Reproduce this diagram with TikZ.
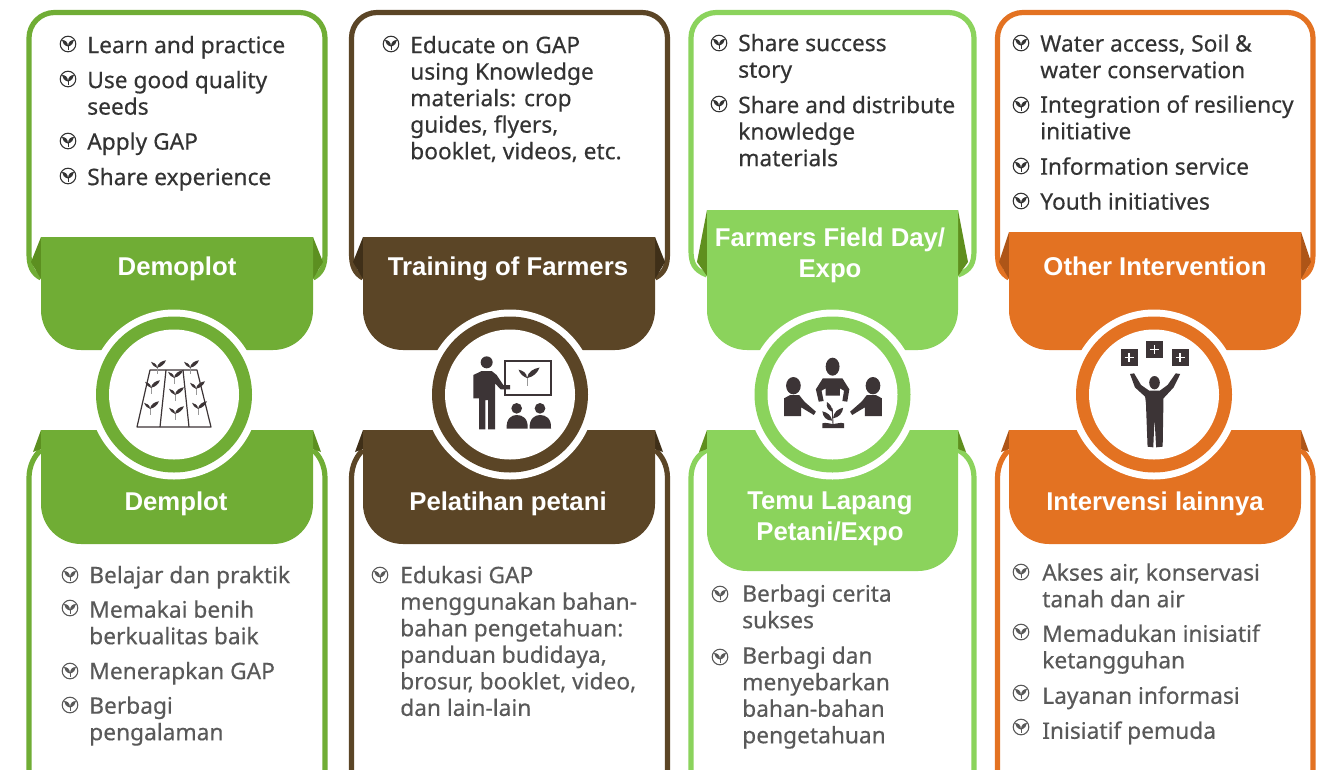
\documentclass[tikz,border=0pt]{standalone}
\usepackage{fontspec}
\setmainfont{Noto Sans}[FakeBold=0.35]
\newfontfamily\bannerfont{Liberation Sans}[BoldFont={Liberation Sans Bold}]
\definecolor{cgreen}{HTML}{70AD35}\definecolor{dgreen}{HTML}{5C8F20}
\definecolor{cbrown}{HTML}{5B4526}\definecolor{dbrown}{HTML}{3F2F18}
\definecolor{clight}{HTML}{8BD35C}\definecolor{dlight}{HTML}{5F8F1E}
\definecolor{corange}{HTML}{E37222}\definecolor{dorange}{HTML}{AE5517}
\definecolor{icon}{HTML}{3C3436}\definecolor{toptext}{HTML}{333333}\definecolor{lowtext}{HTML}{595959}
\tikzset{
 toplist/.style={anchor=north west,inner sep=0pt,yshift=-1.9pt,align=left,text=toptext,font=\fontsize{17.05}{19.9}\selectfont},
 lowlist/.style={anchor=north west,inner sep=0pt,yshift=-1.6pt,align=left,text=lowtext,font=\fontsize{17.05}{19.9}\selectfont},
 bannertext/.style={anchor=center,inner sep=0pt,yshift=-2pt,align=center,text=white,font=\bannerfont\bfseries\fontsize{19.3}{23.5}\selectfont},
}
% #1 x1 #2 x2 (stroke centres) #3 bx1 #4 bx2 #5 banner top #6 tipy #7 end y #8 colour #9 dark
\newcommand{\cardtop}[9]{%
 \draw[#8,line width=3.9pt,fill=white] (#3,#7) .. controls (#1+3,#7-5) and (#1,#7-12) .. (#1,#7-25)
   -- (#1,38) arc[start angle=180,end angle=270,radius=25.5] -- (#2-25.5,12.5) arc[start angle=270,end angle=360,radius=25.5]
   -- (#2,#7-25) .. controls (#2,#7-12) and (#2-3,#7-5) .. (#4,#7);
 \fill[#9] (#3,#5) -- (#3-10,#6) -- (#3,#7+1) -- cycle;
 \fill[#9] (#4,#5) -- (#4+10,#6) -- (#4,#7+1) -- cycle;
}
\newcommand{\cardlow}[7]{%
 \draw[#6,line width=3.9pt,fill=white] (#3,450) .. controls (#1+6,455) and (#1,465) .. (#1,478)
   -- (#1,790) -- (#2,790) -- (#2,478) .. controls (#2,465) and (#2-6,455) .. (#4,450);
 \fill[#7] (#3,430) -- (#3-8,452) -- (#3,449) -- cycle;
 \fill[#7] (#4,430) -- (#4+8,452) -- (#4,449) -- cycle;
}
% x1 x2 ytop ybottom colour
\newcommand{\banner}[5]{%
 \fill[#5] (#1,#3) -- (#2,#3) -- (#2,#4-40) arc[start angle=0,end angle=90,radius=40]
  -- (#1+40,#4) arc[start angle=90,end angle=180,radius=40] -- cycle;
}
\newcommand{\ring}[2]{%
 \fill[white] (#1,394.5) circle[radius=85];
 \fill[#2] (#1,394.5) circle[radius=78];
 \fill[white] (#1,394.5) circle[radius=65];
}
\newcommand{\bul}[3]{%
 \begin{scope}[shift={(#1,#2)}]
  \draw[#3,line width=0.8pt] (0,0) circle[radius=7.8];
  \fill[#3] (0,2.5) .. controls (-4,1.5) and (-5.5,-1) .. (-6,-4) .. controls (-2.5,-4) and (0,-2) .. (0,2.5);
  \fill[#3] (0,2.5) .. controls (4,1.5) and (5.5,-1) .. (6,-4) .. controls (2.5,-4) and (0,-2) .. (0,2.5);
  \draw[#3,line width=0.7pt] (0,1) -- (0,6);
 \end{scope}}
\newcommand{\sprout}[3]{%
 \begin{scope}[shift={(#1,#2)},scale=#3]
  \draw[gray!80,line width=0.6pt] (0,0) -- (0,9);
  \fill[icon] (0,1) .. controls (-5,-1) and (-7,-4) .. (-8,-7) .. controls (-4,-6) and (0,-4) .. (0,1);
  \fill[icon] (0,1) .. controls (1,-5) and (6,-8) .. (12,-9) .. controls (10,-4) and (6,0) .. (0,1);
 \end{scope}}
\begin{document}
\begin{tikzpicture}[x=0.75pt,y=-0.75pt]
\useasboundingbox (0,0) rectangle (1332,769);
\clip (0,0) rectangle (1332,769);
\fill[white] (0,0) rectangle (1332,769);
% cards
\cardtop{29}{325}{41}{313}{237}{262}{278}{cgreen}{dgreen}
\cardtop{351.5}{667.5}{363}{655}{237}{262}{278}{cbrown}{dbrown}
\cardtop{691}{974}{707}{958}{210}{262}{275}{clight}{dlight}
\cardtop{997.5}{1313}{1009}{1301}{232}{262}{278}{corange}{dorange}
\cardlow{29}{325}{41}{313}{}{cgreen}{dgreen}
\cardlow{351.5}{667.5}{363}{655}{}{cbrown}{dbrown}
\cardlow{691}{974}{707}{958}{}{clight}{dlight}
\cardlow{997.5}{1313}{1009}{1301}{}{corange}{dorange}
% banners
\banner{41}{313}{237}{350}{cgreen}
\banner{363}{655}{237}{350}{cbrown}
\banner{707}{958}{210}{350}{clight}
\banner{1009}{1301}{232}{350}{corange}
\banner{41}{313}{430}{544}{cgreen}
\banner{363}{655}{430}{544}{cbrown}
\banner{707}{958}{430}{571}{clight}
\banner{1009}{1301}{430}{544}{corange}
% rings
\ring{174}{cgreen}
\ring{510}{cbrown}
\ring{832.5}{clight}
\ring{1154}{corange}
% banner text
\node[bannertext] (t1) at (177,266) {Demoplot};
\node[bannertext] (t2) at (508,266) {Training of Farmers};
\node[bannertext] (t3) at (830,252.5) {Farmers Field Day/\\Expo};
\node[bannertext] (t4) at (1155,264) {Other Intervention};
\node[bannertext] (b1) at (176,501) {Demplot};
\node[bannertext] (b2) at (508,501) {Pelatihan petani};
\node[bannertext] (b3) at (830,516) {Temu Lapang\\Petani/Expo};
\node[bannertext] (b4) at (1155,501) {Intervensi lainnya};
% top lists
\foreach \y in {44,79,141,176}{\bul{68}{\y}{toptext}}
\node[toplist] (a1) at (87,33) {Learn and practice};
\node[toplist] (a2) at (87,68) {Use good quality\\seeds};
\node[toplist] (a3) at (87,129.5) {Apply GAP};
\node[toplist] (a4) at (87,165) {Share experience};
\bul{391}{44}{toptext}
\node[toplist] (c1) at (410,33) {Educate on GAP\\using Knowledge\\materials: crop\\guides, flyers,\\booklet, videos, etc.};
\foreach \y in {43,104}{\bul{719}{\y}{toptext}}
\node[toplist] (d1) at (738,31) {Share success\\story};
\node[toplist] (d2) at (738,93) {Share and distribute\\knowledge\\materials};
\foreach \y in {43,105,166,201}{\bul{1021}{\y}{toptext}}
\node[toplist] (e1) at (1040,31.5) {Water access, Soil \&\\water conservation};
\node[toplist] (e2) at (1040,92.5) {Integration of resiliency\\initiative};
\node[toplist] (e3) at (1040,154.5) {Information service};
\node[toplist] (e4) at (1040,189.5) {Youth initiatives};
% lower lists
\foreach \y in {575,608,671,705}{\bul{70}{\y}{lowtext}}
\node[lowlist] (f1) at (89,563.5) {Belajar dan praktik};
\node[lowlist] (f2) at (89,598) {Memakai benih\\berkualitas baik};
\node[lowlist] (f3) at (89,659.5) {Menerapkan GAP};
\node[lowlist] (f4) at (89,694) {Berbagi\\pengalaman};
\bul{380}{575}{lowtext}
\node[lowlist] (g1) at (400,563.5) {Edukasi GAP\\menggunakan bahan-\\bahan pengetahuan:\\panduan budidaya,\\brosur, booklet, video,\\dan lain-lain};
\foreach \y in {594,657}{\bul{720}{\y}{lowtext}}
\node[lowlist] (h1) at (742,582) {Berbagi cerita\\sukses};
\node[lowlist] (h2) at (742,644) {Berbagi dan\\menyebarkan\\bahan-bahan\\pengetahuan};
\foreach \y in {572,632,693,727}{\bul{1021}{\y}{lowtext}}
\node[lowlist] (i1) at (1042,561) {Akses air, konservasi\\tanah dan air};
\node[lowlist] (i2) at (1042,622) {Memadukan inisiatif\\ketangguhan};
\node[lowlist] (i3) at (1042,684) {Layanan informasi};
\node[lowlist] (i4) at (1042,719) {Inisiatif pemuda};
% icon 1
\draw[icon,line width=0.9pt,line join=round] (137,427) -- (150,370) -- (197,370) -- (211,427) -- cycle;
\draw[icon,line width=0.9pt] (166,370) -- (160,427) (183,370) -- (189,427);
\sprout{157}{367}{0.75}\sprout{190}{367}{0.75}\sprout{174}{377}{0.75}
\sprout{151}{387}{0.75}\sprout{196}{388}{0.75}\sprout{175}{394}{0.75}
\sprout{150}{408}{0.75}\sprout{198}{408}{0.75}\sprout{175}{413}{0.75}
% icon 2
\begin{scope}[shift={(340,300)},x=0.25pt,y=-0.25pt]
 \fill[icon] (440,187) circle[radius=18];
 \fill[icon] (400,225) -- (425,213) -- (455,213) -- (470,225) -- (490,255) -- (510,255) -- (510,268) -- (482,268) -- (465,250) -- (465,388) -- (444,388) -- (444,300) -- (436,300) -- (436,388) -- (417,388) -- (417,295) -- (400,295) -- cycle;
 \draw[icon,line width=1.6pt] (495,183) rectangle (632,285);
 \fill[icon] (530,325) circle[radius=16];
 \fill[icon] (600,325) circle[radius=16];
 \fill[icon] (500,386) .. controls (498,355) and (515,345) .. (530,345) .. controls (548,345) and (565,355) .. (563,386) -- cycle;
 \fill[icon] (569,386) .. controls (567,355) and (585,345) .. (600,345) .. controls (618,345) and (635,355) .. (633,386) -- cycle;
\end{scope}
\sprout{527}{377}{1.05}
% icon 3
\begin{scope}[shift={(680,300)},x=0.306pt,y=-0.25pt]
 \fill[icon] (374,200) ellipse[x radius=17,y radius=27];
 \fill[icon] (350,235) -- (398,235) -- (415,268) -- (410,305) -- (398,303) -- (402,272) -- (392,265) -- (392,287) -- (357,287) -- (357,265) -- (347,272) -- (352,303) -- (340,305) -- (333,268) -- cycle;
 \fill[icon] (278,257) ellipse[x radius=18,y radius=26];
 \fill[icon] (255,295) -- (270,285) -- (292,285) -- (305,305) -- (333,335) -- (328,345) -- (297,322) -- (297,348) -- (255,348) -- cycle;
 \fill[icon] (473,257) ellipse[x radius=18,y radius=26];
 \fill[icon] (495,295) -- (480,285) -- (458,285) -- (445,305) -- (417,335) -- (422,345) -- (453,322) -- (453,348) -- (495,348) -- cycle;
 \fill[icon] (349,384) -- (402,384) -- (402,370) .. controls (392,366) and (385,372) .. (376,372) .. controls (367,372) and (358,366) .. (349,370) -- cycle;
 \draw[icon,line width=0.7pt] (375,372) -- (373,325);
 \fill[icon] (375,355) .. controls (378,335) and (385,328) .. (400,323) .. controls (398,340) and (390,352) .. (375,355);
 \fill[icon] (373,362) .. controls (370,345) and (362,338) .. (349,334) .. controls (350,350) and (358,362) .. (373,362);
 \fill[icon] (373,335) .. controls (374,322) and (368,312) .. (360,306) .. controls (358,320) and (362,330) .. (373,335);
\end{scope}
% icon 4
\begin{scope}[shift={(680,300)},x=0.306pt,y=-0.25pt]
 \foreach \px/\py in {1080/147,1142/123,1205/147}{
  \fill[icon] (\px,\py) rectangle +(42,51);
  \draw[white,line width=1.3pt] (\px+21,\py+13) -- (\px+21,\py+38) (\px+10,\py+25.5) -- (\px+32,\py+25.5);
 }
 \fill[icon] (1163,248) ellipse[x radius=13,y radius=20];
 \fill[icon] (1103,222) -- (1113,220) -- (1130,255) -- (1150,272) -- (1176,272) -- (1195,255) -- (1215,220) -- (1226,222) -- (1210,262) -- (1185,295) -- (1183,440) -- (1167,442) -- (1163,355) -- (1160,442) -- (1146,440) -- (1142,310) -- (1140,290) -- (1115,262) -- cycle;
\end{scope}
\end{tikzpicture}
\end{document}
